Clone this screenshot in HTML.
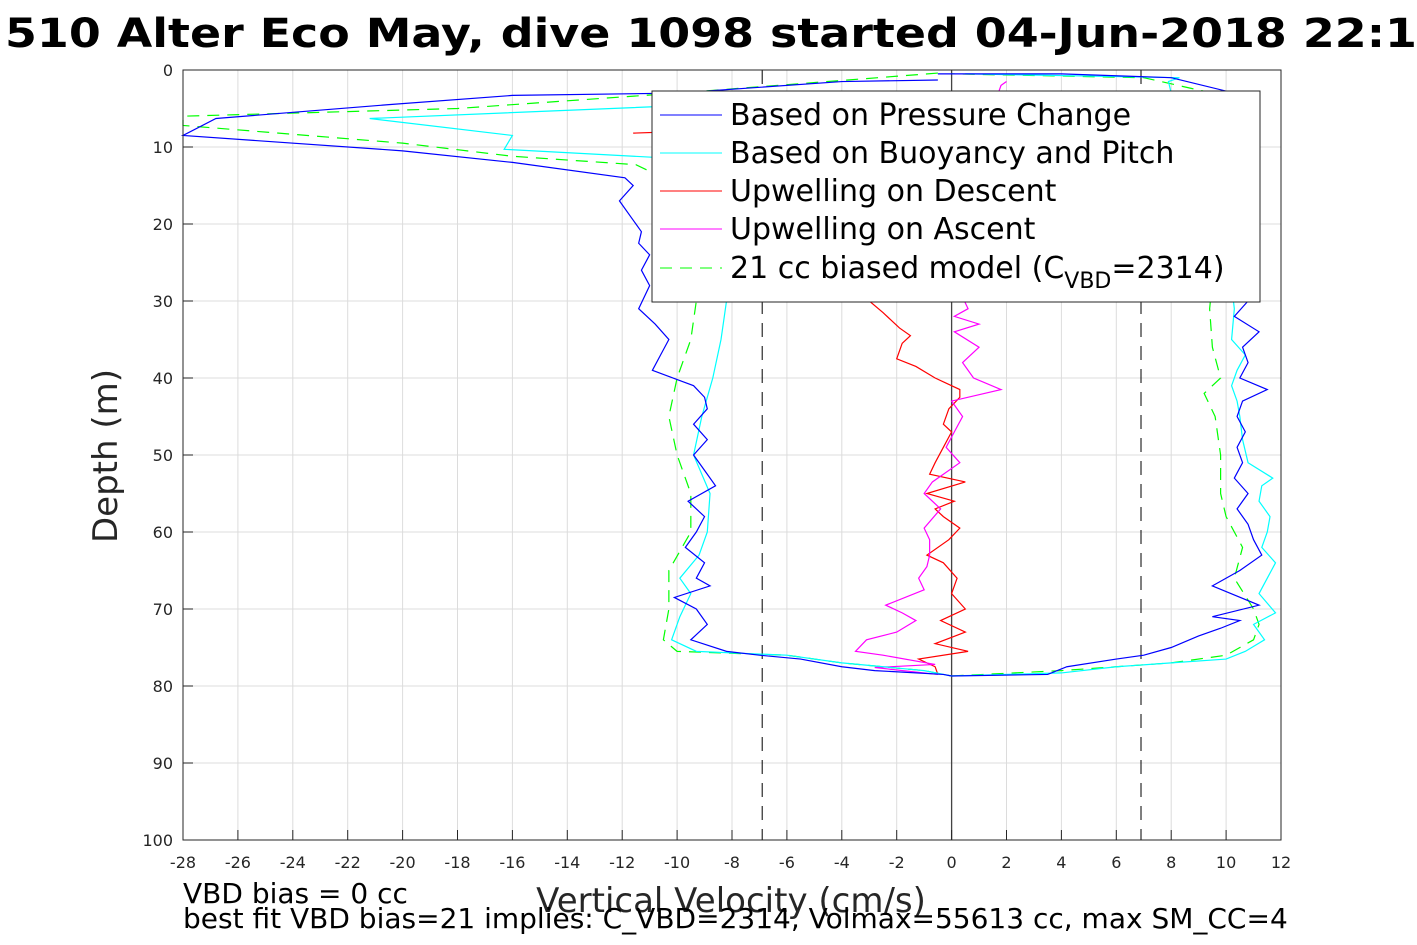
<!DOCTYPE html>
<html><head><meta charset="utf-8"><style>
body{margin:0;background:#fff;}
svg{display:block;font-family:"DejaVu Sans","Liberation Sans",sans-serif;}
</style></head><body>
<svg id="chart" width="1417" height="945" viewBox="0 0 1417 945" xmlns="http://www.w3.org/2000/svg">
<text x="5" y="47" font-size="40" font-weight="bold" fill="#000" textLength="1412" lengthAdjust="spacingAndGlyphs">510 Alter Eco May, dive 1098 started 04-Jun-2018 22:1</text>
<g id="grid"></g>
<g id="marks"></g>
<rect x="183" y="70" width="1098" height="770" fill="none" stroke="#262626" stroke-width="1"/>
<g id="axes"></g>
<text transform="translate(117,456) rotate(-90)" text-anchor="middle" font-size="34" fill="#262626">Depth (m)</text>
<text x="731" y="912" text-anchor="middle" font-size="34" fill="#262626">Vertical Velocity (cm/s)</text>
<text x="183" y="903" font-size="28" fill="#000">VBD bias = 0 cc</text>
<text x="183" y="928" font-size="28" fill="#000">best fit VBD bias=21 implies: C_VBD=2314, Volmax=55613 cc, max SM_CC=4</text>
<g>
<rect x="652" y="91" width="608" height="211" fill="#fff" stroke="#262626" stroke-width="1"/>
<line x1="660" y1="115" x2="722" y2="115" stroke="#0000ff"/>
<text x="730" y="125" font-size="30">Based on Pressure Change</text>
<line x1="660" y1="153" x2="722" y2="153" stroke="#00ffff"/>
<text x="730" y="163" font-size="30">Based on Buoyancy and Pitch</text>
<line x1="660" y1="191" x2="722" y2="191" stroke="#ff0000"/>
<text x="730" y="201" font-size="30">Upwelling on Descent</text>
<line x1="660" y1="229" x2="722" y2="229" stroke="#ff00ff"/>
<text x="730" y="239" font-size="30">Upwelling on Ascent</text>
<line x1="660" y1="268" x2="722" y2="268" stroke="#00ff00" stroke-dasharray="12,8"/>
<text x="730" y="278" font-size="30">21 cc biased model (C<tspan font-size="22" dy="10">VBD</tspan><tspan dy="-10">=2314)</tspan></text>
</g>
</svg>
<script>
const xTicks=[-28,-26,-24,-22,-20,-18,-16,-14,-12,-10,-8,-6,-4,-2,0,2,4,6,8,10,12];
const yTicks=[0,10,20,30,40,50,60,70,80,90,100];
const refLines=[-6.9,6.9];
// [depth, velocity]
const pressureDown=[[1.3,-0.5],[1.5,-4],[3,-10],[3.3,-16],[4.5,-20.5],[6.3,-26.8],[8.5,-28],[10.5,-20],[12,-16],[14,-11.9],[15,-11.6],[17,-12.1],[19,-11.7],[21,-11.3],[22.5,-11.4],[24,-11.0],[26,-11.3],[28,-11.0],[31,-11.4],[33,-10.8],[35,-10.3],[37,-10.6],[39,-10.9],[41,-9.4],[42.5,-9.0],[44,-8.9],[46,-9.4],[48,-8.9],[50,-9.4],[52,-9.0],[54,-8.6],[56,-9.6],[58,-9.0],[60,-9.3],[62,-9.7],[64,-9.0],[66,-9.3],[67,-8.8],[68.5,-10.1],[70,-9.3],[72,-8.9],[74,-9.5],[75.5,-8.2],[76,-7],[76.5,-5.5],[77.5,-4],[78,-2.8],[78.5,-0.3],[78.7,0]];
const pressureUp=[[78.7,0],[78.5,3.5],[77.5,4.2],[76.5,6],[76,7],[75,8],[73.5,9],[72.5,9.8],[71.5,10.5],[71,9.5],[69.5,11.2],[67,9.5],[65,10.5],[63,11.3],[61,11],[59,10.8],[57,10.4],[55,10.8],[53,10.3],[51,10.6],[49,10.4],[47,10.7],[45,10.4],[43,10.6],[41.5,11.5],[40,10.5],[38,10.8],[36,10.6],[34,11.2],[32,10.3],[30,10.8],[27,10.6],[20,10.3],[10,10.6],[5,10.6],[3,10.3],[1,8],[0.5,4],[0.5,-0.5]];
const buoyDown=[[3.5,-2],[4.5,-9],[6.3,-21.2],[8.5,-16],[10.3,-16.3],[11.5,-10],[12.5,-9],[20,-8.5],[30,-8.2],[35,-8.4],[40,-8.7],[45,-9.1],[50,-9.4],[55,-8.8],[60,-8.9],[63,-9.2],[66,-9.9],[68,-9.5],[71,-9.9],[74,-10.2],[75.5,-9.3],[76,-6],[77,-4],[78,-1],[78.7,0]];
const buoyUp=[[78.7,0],[78.3,4],[77.5,6],[77,8],[76.5,10],[75.5,10.7],[74,11.4],[72,11.0],[70.5,11.8],[68,11.2],[66,11.5],[64,11.8],[62,11.3],[60,11.5],[58,11.6],[56,11.2],[54,11.3],[53,11.7],[51,10.8],[48,10.6],[45,10.5],[43,10.4],[41,10.2],[39,10.4],[37,10.7],[35,10.2],[31,10.3],[28,10.2],[10,10],[3,8],[1.5,7.9],[1,8.3],[0.5,0.5]];
const modelDown=[[0.4,-0.5],[3,-10],[5,-18],[6,-28],[7.2,-28],[9.5,-20],[11.2,-16],[12.3,-11.5],[14,-10.5],[20,-10],[30,-9.3],[35,-9.5],[40,-10],[45,-10.3],[50,-10],[55,-9.5],[60,-9.5],[65,-10.3],[70,-10.3],[74,-10.5],[75.5,-10],[76,-6],[77,-4],[78,-1],[78.7,0]];
const modelUp=[[78.7,0],[78,4],[77,8],[76,10],[74,11],[72,11.2],[70,11],[66,10.3],[62,10.6],[58,10],[55,9.8],[50,9.8],[45,9.6],[42,9.2],[40,9.8],[36,9.5],[31,9.4],[10,10],[3,9.5],[1,7],[0.5,0]];
const upwellDown=[[8.2,-11.6],[8,-10],[12,-5],[20,-3],[30,-3],[31.5,-2.5],[33.5,-1.9],[34.5,-1.5],[35.5,-1.8],[37.5,-2],[38.5,-1.3],[40,-0.6],[41.5,0.3],[42.5,0.3],[44,-0.1],[46,-0.3],[47,0],[49,-0.3],[51,-0.6],[52.5,-0.8],[53.5,0.5],[55,-0.9],[56,0.1],[57,-0.6],[58,-0.3],[59.5,0.3],[61,-0.1],[63,-0.9],[64,-0.3],[66,0.2],[68,0],[70,0.5],[71.5,-0.4],[73,0.5],[74.5,-0.6],[75.5,0.6],[76.5,-1.2],[77.5,-0.6],[78.5,-0.5]];
const upwellUp=[[78.5,-0.5],[77.6,-2.8],[77.2,-0.6],[76,-2.5],[75.5,-3.5],[74,-3.1],[73,-2],[71.5,-1.3],[70.5,-1.8],[69.5,-2.4],[67.5,-1],[66,-1.2],[64.5,-0.9],[63,-0.8],[61,-0.8],[59.5,-1],[57,-0.4],[55,-1],[53.5,-0.7],[51,0.3],[49,-0.2],[47,0.1],[45,0.4],[43,0],[41.5,1.8],[40,0.8],[38,0.4],[36,1],[34,0.1],[33,1],[32,0.1],[31,0.6],[28,0.2],[20,0.5],[10,1],[2,1.8],[1.5,2]];

const X0=183,X1=1281,Y0=70,Y1=840;
const xs=v=>X0+(v+28)/40*(X1-X0);
const ys=d=>Y0+d/100*(Y1-Y0);
const NS="http://www.w3.org/2000/svg";
function mk(parent,tag,attrs){const e=document.createElementNS(NS,tag);for(const k in attrs)e.setAttribute(k,attrs[k]);parent.appendChild(e);return e;}
const grid=document.getElementById('grid'),marks=document.getElementById('marks'),axes=document.getElementById('axes');
xTicks.forEach(t=>{
  const l=mk(grid,'line',{x1:xs(t),x2:xs(t),y1:Y0,y2:Y1,stroke:'#dcdcdc','stroke-width':1});
  
  
  const tk=mk(axes,'line',{x1:xs(t),x2:xs(t),y1:Y1,y2:Y1-10,stroke:'#262626'});
  
  
  const tx=mk(axes,'text',{x:xs(t),y:Y1+28,'text-anchor':'middle','font-size':16,fill:'#262626'});
  tx.textContent=t;
  
  
});
yTicks.forEach(t=>{
  const l=mk(grid,'line',{x1:X0,x2:X1,y1:ys(t),y2:ys(t),stroke:'#dcdcdc','stroke-width':1});
  
  
  const tk=mk(axes,'line',{x1:X0,x2:X0+10,y1:ys(t),y2:ys(t),stroke:'#262626'});
  
  
  const tx=mk(axes,'text',{x:X0-10,y:ys(t)+6,'text-anchor':'end','font-size':16,fill:'#262626'});
  tx.textContent=t;
  
  
});
refLines.forEach(v=>{
  const l=mk(marks,'line',{x1:xs(v),x2:xs(v),y1:Y0,y2:Y1,stroke:'#000','stroke-dasharray':'14,9'});
  
  
});
const zl=mk(marks,'line',{x1:xs(0),x2:xs(0),y1:Y0,y2:Y1,stroke:'#444','stroke-width':1.3});


function series(data,color,name,dash){
  const p=mk(marks,'polyline',{points:data.map(d=>xs(d[1])+','+ys(d[0])).join(' '),fill:'none',stroke:color,'stroke-width':1.2});
  if(dash)p.setAttribute('stroke-dasharray',dash);
  
  
}
series(modelDown,'#00ff00','biased-model-descent','12,8');
series(modelUp,'#00ff00','biased-model-ascent','12,8');
series(upwellDown,'#ff0000','upwelling-descent-line');
series(upwellUp,'#ff00ff','upwelling-ascent-line');
series(buoyDown,'#00ffff','buoyancy-descent-line');
series(buoyUp,'#00ffff','buoyancy-ascent-line');
series(pressureDown,'#0000ff','pressure-descent-line');
series(pressureUp,'#0000ff','pressure-ascent-line');
</script>
</body></html>
